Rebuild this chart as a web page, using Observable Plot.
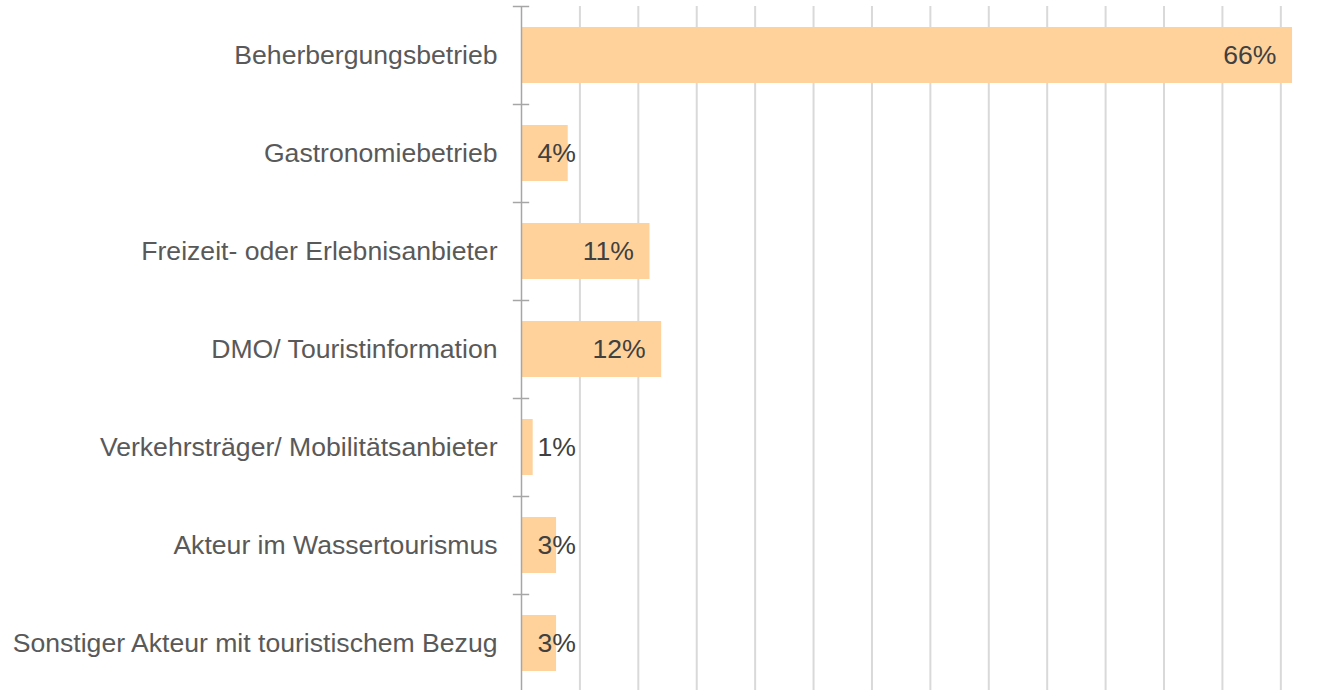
<!DOCTYPE html>
<html>
<head>
<meta charset="utf-8">
<script src="https://cdn.jsdelivr.net/npm/d3@7"></script>
<script src="https://cdn.jsdelivr.net/npm/@observablehq/plot@0.6"></script>
<style>
  html, body { margin: 0; padding: 0; background: #fff; }
  svg { display: block; }
</style>
</head>
<body>
<div id="chart"></div>
<script>
const categories = [
  "Beherbergungsbetrieb",
  "Gastronomiebetrieb",
  "Freizeit- oder Erlebnisanbieter",
  "DMO/ Touristinformation",
  "Verkehrsträger/ Mobilitätsanbieter",
  "Akteur im Wassertourismus",
  "Sonstiger Akteur mit touristischem Bezug"
];
const values = [66, 4, 11, 12, 1, 3, 3];
const xTicks = [5, 10, 15, 20, 25, 30, 35, 40, 45, 50, 55, 60, 65];

const data = categories.map((c, i) => ({category: c, value: values[i]}));

const W = 1328, H = 690;
const mt = 6, mb = -2;
const step = (H - mt - mb) / categories.length;
const font = "'Liberation Sans', Arial, sans-serif";
const fs = 26.6;

const chart = Plot.plot({
  width: W,
  height: H,
  marginLeft: 521,
  marginRight: 0,
  marginTop: mt,
  marginBottom: mb,
  style: {fontFamily: font, fontSize: fs + "px", background: "#fff"},
  x: {domain: [0, 69.08], axis: null},
  y: {domain: categories, paddingInner: 0.43, paddingOuter: 0.215, axis: null},
  marks: [
    Plot.ruleX(xTicks, {stroke: "#D9D9D9", strokeWidth: 2}),
    Plot.barX(data, {y: "category", x: "value", fill: "#FFD29C"}),
    Plot.ruleX([0], {stroke: "#A6A6A6", strokeWidth: 1.5}),
    Plot.ruleY(categories, {y: d => d, x1: -0.7, x2: 0.7, dy: -step / 2, stroke: "#A6A6A6", strokeWidth: 1.5}),
    Plot.axisY({tickSize: 0, tickPadding: 24, fontSize: fs, fill: "#595959", label: null}),
    Plot.text(data.filter(d => d.value >= 6), {
      y: "category", x: "value", text: d => d.value + "%",
      textAnchor: "end", dx: -16, fill: "#404040", fontSize: fs
    }),
    Plot.text(data.filter(d => d.value < 6), {
      y: "category", x: () => 0, text: d => d.value + "%",
      textAnchor: "start", dx: 16, fill: "#404040", fontSize: fs
    })
  ]
});
document.getElementById("chart").appendChild(chart);
</script>
</body>
</html>
